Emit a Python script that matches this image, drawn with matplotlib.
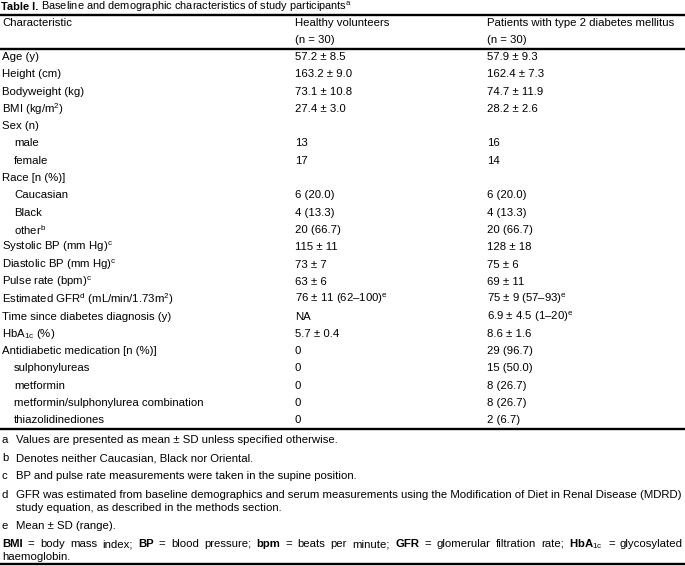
import matplotlib
matplotlib.use("Agg")
import matplotlib.pyplot as plt

plt.rcParams['font.family'] = ['Liberation Sans', 'DejaVu Sans']
plt.rcParams['mathtext.fontset'] = 'custom'
plt.rcParams['mathtext.rm'] = 'Liberation Sans'
plt.rcParams['mathtext.it'] = 'Liberation Sans:italic'
plt.rcParams['mathtext.bf'] = 'Liberation Sans:bold'

# --- data ---
titre = "Baseline and demographic characteristics of study participants"
entetes = ["Characteristic", "Healthy volunteers\n(n = 30)",
           "Patients with type 2 diabetes mellitus\n(n = 30)"]

caracteristiques = ["Age (y)", "Height (cm)", "Bodyweight (kg)", "BMI (kg/m$^2$)",
                    "Sex (n)", "male", "female", "Race [n (%)]", "Caucasian",
                    "Black", "other$^{\\rm b}$", "Systolic BP (mm Hg)$^{\\rm c}$",
                    "Diastolic BP (mm Hg)$^{\\rm c}$", "Pulse rate (bpm)$^{\\rm c}$",
                    "Estimated GFR$^{\\rm d}$ (mL/min/1.73m$^2$)",
                    "Time since diabetes diagnosis (y)", "HbA$_{\\rm 1c}$ (%)",
                    "Antidiabetic medication [n (%)]", "sulphonylureas", "metformin",
                    "metformin/sulphonylurea combination", "thiazolidinediones"]
sous_lignes = {"male", "female", "Caucasian", "Black", "other$^{\\rm b}$",
               "sulphonylureas", "metformin", "metformin/sulphonylurea combination",
               "thiazolidinediones"}

volontaires = ["57.2 ± 8.5", "163.2 ± 9.0", "73.1 ± 10.8", "27.4 ± 3.0", "",
               "13", "17", "", "6 (20.0)", "4 (13.3)", "20 (66.7)", "115 ± 11",
               "73 ± 7", "63 ± 6", "76 ± 11 (62–100)$^{\\rm e}$", "NA", "5.7 ± 0.4",
               "0", "0", "0", "0", "0"]
patients = ["57.9 ± 9.3", "162.4 ± 7.3", "74.7 ± 11.9", "28.2 ± 2.6", "",
            "16", "14", "", "6 (20.0)", "4 (13.3)", "20 (66.7)", "128 ± 18",
            "75 ± 6", "69 ± 11", "75 ± 9 (57–93)$^{\\rm e}$", "6.9 ± 4.5 (1–20)$^{\\rm e}$",
            "8.6 ± 1.6", "29 (96.7)", "15 (50.0)", "8 (26.7)", "8 (26.7)", "2 (6.7)"]

notes_lettres = ["a", "b", "c", "d", "e"]
notes_textes = ["Values are presented as mean ± SD unless specified otherwise.",
                "Denotes neither Caucasian, Black nor Oriental.",
                "BP and pulse rate measurements were taken in the supine position.",
                "GFR was estimated from baseline demographics and serum measurements using the Modification of Diet in Renal Disease (MDRD)\nstudy equation, as described in the methods section.",
                "Mean ± SD (range)."]
abreviations = [("BMI", "body mass index;"), ("BP", "blood pressure;"),
                ("bpm", "beats per minute;"), ("GFR", "glomerular filtration rate;"),
                ("$\\mathbf{HbA}_{\\rm 1c}$", "glycosylated")]
abrev_suite = "haemoglobin."

# --- figure ---
L, H = 685, 566
fig = plt.figure(figsize=(L / 100, H / 100), dpi=100)
ax = fig.add_axes([0, 0, 1, 1])
ax.set_xlim(0, L)
ax.set_ylim(H, 0)
ax.axis("off")

fs = 8.2
fs_titre = 7.9
col_x = [2, 295, 487]
pas = 17.3
pas_notes = 18.3
interligne = 13
trait = 1.7

fig.canvas.draw()
rend = fig.canvas.get_renderer()

t1 = ax.text(1, 6.5, "Table I.", fontsize=fs_titre, fontweight="bold", va="center")
w1 = t1.get_window_extent(rend).width
ax.text(1 + w1 + 2.5, 6.5, titre + "$^{\\rm a}$", fontsize=fs_titre, va="center")
ax.plot([0, L], [15, 15], color="black", lw=trait)

for x, t in zip(col_x, entetes):
    for k, ligne in enumerate(t.split("\n")):
        ax.text(x, 23 + k * pas, ligne, fontsize=fs, va="center")
ax.plot([0, L], [48.5, 48.5], color="black", lw=trait)

y0 = 57
for i, (c, v, p) in enumerate(zip(caracteristiques, volontaires, patients)):
    y = y0 + i * pas
    x = col_x[0] + (12 if c in sous_lignes else 0)
    ax.text(x, y, c, fontsize=fs, va="center")
    ax.text(col_x[1], y, v, fontsize=fs, va="center")
    ax.text(col_x[2], y, p, fontsize=fs, va="center")

y_fin = y0 + (len(caracteristiques) - 1) * pas + 9
ax.plot([0, L], [y_fin, y_fin], color="black", lw=trait)

y = y_fin + 10.5
for lettre, t in zip(notes_lettres, notes_textes):
    ax.text(2, y, lettre, fontsize=fs, va="center")
    lignes = t.split("\n")
    for k, ligne in enumerate(lignes):
        ax.text(16, y + k * interligne, ligne, fontsize=fs, va="center")
    y += pas_notes + interligne * (len(lignes) - 1)

# ligne justifiee des abreviations
morceaux = []
for gras, texte in abreviations:
    morceaux.append((gras, "bold"))
    morceaux.append(("=", "normal"))
    for mot in texte.split(" "):
        morceaux.append((mot, "normal"))
artistes = []
largeur = 0
for mot, poids in morceaux:
    a = ax.text(0, y, mot, fontsize=fs, fontweight=poids, va="center")
    w = a.get_window_extent(rend).width
    artistes.append((a, w))
    largeur += w
ecart = (L - 4 - largeur) / (len(artistes) - 1)
x = 2
for a, w in artistes:
    a.set_x(x)
    x += w + ecart
ax.text(2, y + interligne, abrev_suite, fontsize=fs, va="center")
ax.plot([0, L], [H - 2, H - 2], color="black", lw=trait)

fig.savefig("out.png", dpi=100)
